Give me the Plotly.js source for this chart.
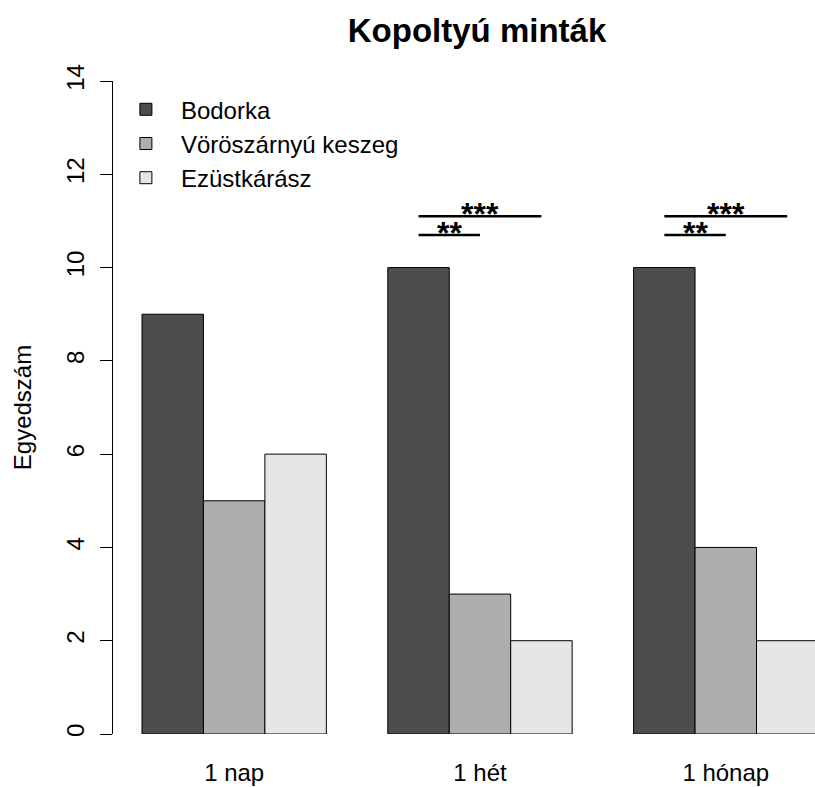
<!DOCTYPE html>
<html>
<head>
<meta charset="utf-8">
<script src="https://cdn.plot.ly/plotly-3.0.1.min.js"></script>
<style>html,body{margin:0;padding:0;background:#fff}#chart{width:815px;height:787px}</style>
</head>
<body>
<div id="chart"></div>
<script>
// ---- data ----
const categories = ["1 nap", "1 hét", "1 hónap"];
const seriesNames = ["Bodorka", "Vöröszárnyú keszeg", "Ezüstkárász"];
const bodorka = [9, 10, 10];
const voroszarnyuKeszeg = [5, 3, 4];
const ezustkarasz = [6, 2, 2];
const yTickVals = [0, 2, 4, 6, 8, 10, 12, 14];
// significance brackets: category, from-series index, to-series index, level, label
const sigCategory = ["1 hét", "1 hét", "1 hónap", "1 hónap"];
const sigFrom = [0, 0, 0, 0];
const sigTo = [2, 1, 2, 1];
const sigLevel = [11.1, 10.7, 11.1, 10.7];
const sigLabel = ["***", "**", "***", "**"];

// ---- styling ----
const seriesColors = ["#4D4D4D", "#AEAEAE", "#E6E6E6"];
const seriesValues = [bodorka, voroszarnyuKeszeg, ezustkarasz];
const BARGAP = 0.25;
const FONT = '"Liberation Sans", Arial, Helvetica, sans-serif';

const traces = seriesValues.map((vals, i) => ({
  type: 'bar',
  name: seriesNames[i],
  x: categories,
  y: vals,
  legendgroup: 'g' + i,
  marker: {color: seriesColors[i], line: {color: '#000', width: 1}},
  hoverinfo: 'x+y+name'
}));

// bar centre offset within a group, derived from the bar layout
const nS = seriesValues.length;
const barW = (1 - BARGAP) / nS;
const barCentre = (cat, s) => categories.indexOf(cat) + (s - (nS - 1) / 2) * barW;

const shapes = [];
const annotations = [];
for (let k = 0; k < sigCategory.length; k++) {
  const x0 = barCentre(sigCategory[k], sigFrom[k]);
  const x1 = barCentre(sigCategory[k], sigTo[k]);
  shapes.push({type: 'line', xref: 'x', yref: 'y', x0: x0, x1: x1, y0: sigLevel[k], y1: sigLevel[k],
               line: {color: '#000', width: 2.5}});
  annotations.push({xref: 'x', yref: 'y', x: (x0 + x1) / 2, y: sigLevel[k], text: sigLabel[k],
               showarrow: false, xanchor: 'center', yanchor: 'middle', yshift: 2,
               font: {family: FONT, size: 32, weight: 700, color: '#000'}});
}

const layout = {
  width: 815, height: 787,
  margin: {l: 113, r: 0, t: 80.7, b: 53, pad: 0},
  paper_bgcolor: '#fff', plot_bgcolor: '#fff',
  font: {family: FONT, size: 24, color: '#000'},
  title: {text: 'Kopoltyú minták', font: {family: FONT, size: 33, weight: 700, color: '#000'},
          xref: 'container', x: 477 / 815, xanchor: 'center',
          yref: 'container', y: 1 - 30 / 787, yanchor: 'middle'},
  barmode: 'group', bargap: BARGAP, bargroupgap: 0,
  xaxis: {type: 'category', range: [-0.493, 2.363], showline: false, ticks: '',
          showgrid: false, zeroline: false, ticklabelstandoff: 22,
          tickfont: {family: FONT, size: 24, color: '#000'}},
  yaxis: {range: [0, 14], tickvals: yTickVals, showline: true, linecolor: '#000', linewidth: 1,
          ticks: 'outside', ticklen: 12, tickwidth: 1, tickcolor: '#000', tickangle: -90,
          showgrid: false, zeroline: false, ticklabelstandoff: 6,
          tickfont: {family: FONT, size: 24, color: '#000'},
          title: {text: 'Egyedszám', font: {family: FONT, size: 24, color: '#000'}, standoff: 24}},
  showlegend: true,
  legend: {x: -0.003, xanchor: 'left', y: 0.9905, yanchor: 'top', itemwidth: 60,
           bgcolor: 'rgba(0,0,0,0)', borderwidth: 0, tracegroupgap: 0,
           font: {family: FONT, size: 24, color: '#000'}},
  shapes: shapes,
  annotations: annotations
};

Plotly.newPlot('chart', traces, layout, {displayModeBar: false, staticPlot: true});
</script>
</body>
</html>
